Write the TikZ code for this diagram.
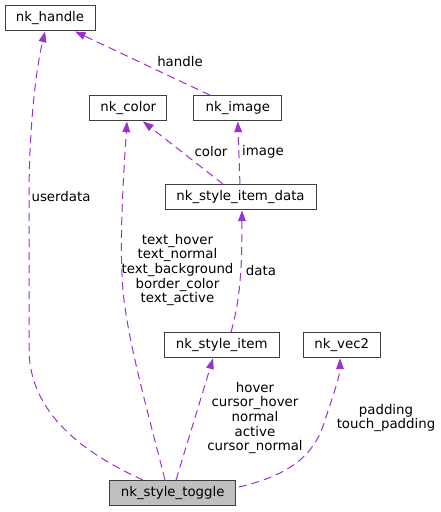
\documentclass[tikz,border=0pt]{standalone}
\usepackage{fontspec}
\setmainfont{DejaVu Sans}
\usetikzlibrary{arrows.meta,calc}
\definecolor{edgepurple}{HTML}{9A32CD}
\definecolor{boxborder}{HTML}{404040}
\definecolor{boxfill}{HTML}{BFBFBF}
\tikzset{
  cls/.style={draw=boxborder, line width=0.75pt, fill=white, inner sep=0pt,
    minimum height=19pt, font=\fontsize{10}{12}\selectfont},
  bw/.style={minimum width=#1*0.75pt},
  rel/.style={draw=edgepurple, line width=0.75pt, dash pattern=on 6pt off 3.75pt,
    -{Triangle[length=8pt,width=5.8pt,fill=edgepurple,color=edgepurple]}},
  lbl/.style={font=\fontsize{10}{10.9}\selectfont, align=center, inner sep=0pt}
}
\begin{document}
\begin{tikzpicture}[x=0.75pt,y=-0.75pt]
\useasboundingbox (0,0) rectangle (441,512);
% classes
\node[cls,bw=90] (handle) at (50,18.3) {nk\_handle};
\node[cls,bw=77.3] (color) at (128.3,108.3) {nk\_color};
\node[cls,bw=87.7] (image) at (237.8,108.3) {nk\_image};
\node[cls,bw=151] (itemdata) at (240.5,197.3) {nk\_style\_item\_data};
\node[cls,bw=114.7] (item) at (221.7,345.2) {nk\_style\_item};
\node[cls,bw=76.7] (vec) at (341.7,345.2) {nk\_vec2};
\node[cls,bw=126,fill=boxfill] (toggle) at (172.7,493.2) {nk\_style\_toggle};
% relations
\draw[rel] ([xshift=-22.3pt]toggle.north) .. controls (95,458) and (30,420) .. (29,350)
  -- (29,200) .. controls (29,120) and (37,65) .. ([xshift=-3.75pt]handle.south);
\draw[rel] ([xshift=-5.8pt]toggle.north) .. controls (150,420) and (130,350) .. (124,300)
  .. controls (118,250) and (124,170) .. ([xshift=-1pt]color.south);
\draw[rel] ([xshift=-13.1pt]itemdata.north) -- ([xshift=11pt]color.south);
\draw[rel] ([xshift=-0.4pt]itemdata.north) -- (image.south);
\draw[rel] ([xshift=-20.9pt]image.north) -- ([xshift=18.75pt]handle.south);
\draw[rel] ([xshift=7pt]item.north) .. controls (240,300) and (242,270) .. ([xshift=1.1pt]itemdata.south);
\draw[rel] ([xshift=2.5pt]toggle.north) -- ([xshift=-6.5pt]item.south);
\draw[rel] ([xshift=2pt,yshift=4.6pt]toggle.east) .. controls (290,475) and (315,455) .. (325,420)
  .. controls (335,390) and (340,375) .. ([xshift=-1.3pt]vec.south);
% labels
\node[lbl] (luserdata) at (61,197) {userdata};
\node[lbl] (lhandle) at (180,62) {handle};
\node[lbl] (lcolor) at (211,151.7) {color};
\node[lbl] (limage) at (263,152) {image};
\node[lbl] (ldata) at (261,270.7) {data};
\node[lbl] (ltext) at (177.5,270) {text\_hover\\text\_normal\\text\_background\\border\_color\\text\_active};
\node[lbl] (lhover) at (255,418) {hover\\cursor\_hover\\normal\\active\\cursor\_normal};
\node[lbl] (lpad) at (386,418) {padding\\touch\_padding};
\end{tikzpicture}
\end{document}
